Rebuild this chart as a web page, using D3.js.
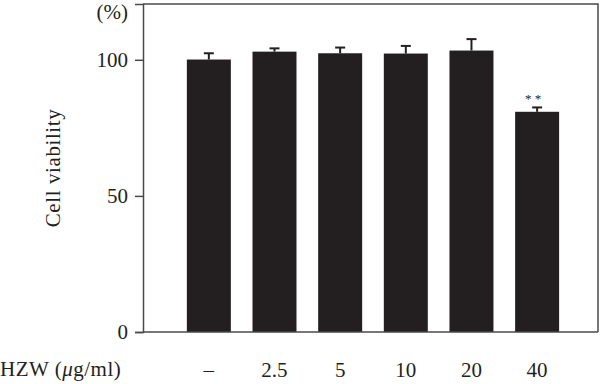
<!DOCTYPE html>
<html>
<head>
<meta charset="utf-8">
<script src="https://cdn.jsdelivr.net/npm/d3@7"></script>
<style>
  body { margin: 0; background: #fff; }
  svg { display: block; font-family: "Liberation Serif", "DejaVu Serif", serif; }
</style>
</head>
<body>
<svg width="600" height="384"></svg>
<script>
// data
var doses = ["–", "2.5", "5", "10", "20", "40"];
var viability = [100.1, 103.0, 102.4, 102.3, 103.4, 80.9];
var errors = [2.3, 1.2, 2.1, 2.8, 4.2, 1.6];
var marks = ["", "", "", "", "", "* *"];
var yTicks = [0, 50, 100];

var svg = d3.select("svg");
var plot = {left: 143, right: 598, top: 4, bottom: 332};

var yScale = d3.scaleLinear().domain([0, 120.5]).range([plot.bottom, plot.top]);
var xScale = d3.scaleBand().domain(doses).range([plot.left, plot.right])
    .paddingInner(0.33).paddingOuter(0.63).align(0.53);

// frame (top and right)
svg.append("path")
    .attr("d", "M" + plot.left + "," + plot.top + "H" + plot.right + "V" + plot.bottom)
    .attr("fill", "none")
    .attr("stroke", "#4a4a4a")
    .attr("stroke-width", 1.5);

var bars = svg.append("g");
bars.selectAll("rect").data(viability).enter()
    .append("rect")
    .attr("x", function(d, i) { return xScale(doses[i]); })
    .attr("y", function(d) { return yScale(d); })
    .attr("width", xScale.bandwidth())
    .attr("height", function(d) { return yScale(0) - yScale(d); })
    .attr("fill", "#231f20");

// error bars (upper only)
var err = svg.append("g").attr("stroke", "#231f20").attr("stroke-width", 2);
viability.forEach(function(v, i) {
    var cx = xScale(doses[i]) + xScale.bandwidth() / 2;
    err.append("line")
        .attr("x1", cx).attr("x2", cx)
        .attr("y1", yScale(v)).attr("y2", yScale(v + errors[i]));
    err.append("line")
        .attr("x1", cx - 5).attr("x2", cx + 5)
        .attr("y1", yScale(v + errors[i])).attr("y2", yScale(v + errors[i]));
});

// significance
svg.append("g").selectAll("text").data(marks).enter()
    .append("text")
    .attr("x", function(d, i) { return xScale(doses[i]) + xScale.bandwidth() / 2 - 4; })
    .attr("y", function(d, i) { return yScale(viability[i] + errors[i]) - 4; })
    .attr("text-anchor", "middle")
    .style("font-size", "13px")
    .attr("fill", "#231f20")
    .text(function(d) { return d; });

// axes
var yAxis = svg.append("g")
    .attr("transform", "translate(" + plot.left + ",0)")
    .call(d3.axisLeft(yScale).tickValues(yTicks).tickSize(8).tickPadding(7));
var xAxis = svg.append("g")
    .attr("transform", "translate(0," + plot.bottom + ")")
    .call(d3.axisBottom(xScale).tickSize(0).tickPadding(30));

[yAxis, xAxis].forEach(function(ax) {
    ax.select(".domain").attr("stroke", "#4a4a4a").attr("stroke-width", 1.5);
    ax.selectAll(".tick line").attr("stroke", "#4a4a4a").attr("stroke-width", 1.5);
    ax.selectAll("text").style("font-family", "Liberation Serif, serif")
        .style("font-size", "21px").attr("fill", "#231f20");
});
xAxis.select(".domain").attr("d", "M" + plot.left + ",0H" + plot.right);

// labels
svg.append("text")
    .attr("x", 128).attr("y", 19)
    .attr("text-anchor", "end")
    .style("font-size", "21px")
    .attr("fill", "#231f20")
    .text("(%)");

svg.append("text")
    .attr("transform", "translate(60,168) rotate(-90)")
    .attr("text-anchor", "middle")
    .style("font-size", "21px")
    .style("letter-spacing", "0.6px")
    .attr("fill", "#231f20")
    .text("Cell viability");

var xl = svg.append("text")
    .attr("x", 0).attr("y", 376)
    .style("font-size", "21px")
    .style("letter-spacing", "0.5px")
    .attr("fill", "#231f20");
xl.append("tspan").text("HZW (");
xl.append("tspan").style("font-style", "italic").text("μ");
xl.append("tspan").text("g/ml)");
</script>
</body>
</html>
